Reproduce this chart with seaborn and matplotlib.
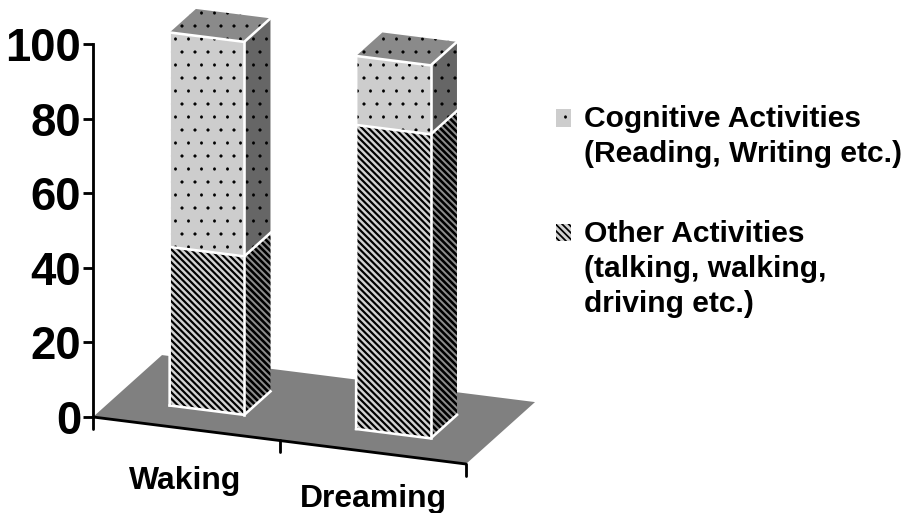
import matplotlib
matplotlib.use("Agg")
import matplotlib.pyplot as plt
from matplotlib.legend_handler import HandlerPatch
from matplotlib.patches import Patch, Polygon, Rectangle
from matplotlib.transforms import Affine2D
import numpy as np
import pandas as pd
import seaborn as sns

# Share of dream/waking reports by activity type (percent)
conditions = ["Waking", "Dreaming"]
other_activities = [42.5, 81.5]
cognitive_activities = [57.5, 18.5]
value_ticks = [0, 20, 40, 60, 80, 100]
cognitive_label = "Cognitive Activities\n(Reading, Writing etc.)"
other_label = "Other Activities\n(talking, walking,\ndriving etc.)"

# Oblique projection: drop of the baseline per category, floor depth vector
SHEAR = 6.3
DEPTH_X = 0.37
DEPTH_Y = 16.6
Z_FRONT, Z_BACK = 0.30, 0.68
BAR_WIDTH = 0.40

DPI = 78
sns.set_style("ticks")
plt.rcParams["font.family"] = ["Liberation Sans", "DejaVu Sans"]
plt.rcParams["font.weight"] = "bold"
plt.rcParams["text.color"] = "black"
plt.rcParams["ytick.color"] = "black"
plt.rcParams["axes.edgecolor"] = "black"
plt.rcParams["hatch.linewidth"] = 0.3


def plane(z):
    """Affine map from (category, value) at floor depth z to data space."""
    return Affine2D.from_values(1, -SHEAR, 0, 1, z * DEPTH_X, -SHEAR * 0.5 + z * DEPTH_Y)


def project(x, v, z):
    return tuple(plane(z).transform((x, v)))


def with_hatch_width(artist, width):
    """Render an artist with its own hatch stroke width."""
    base_draw = artist.draw

    def draw(renderer):
        with plt.rc_context({"hatch.linewidth": width}):
            base_draw(renderer)

    artist.draw = draw
    if hasattr(artist, "set_hatch_linewidth"):
        artist.set_hatch_linewidth(width)
    elif hasattr(artist, "_hatch_linewidth"):
        artist._hatch_linewidth = width
    return artist


def swatch_on_first_line(legend, orig_handle, xdescent, ydescent, width, height, fontsize):
    """Legend swatch raised level with the first line of a multi-line label."""
    shift = LINE_PITCH * (orig_handle.line_count - 1) / 2 + 0.5
    return Rectangle((-xdescent, -ydescent + shift), width, height)


STRIPE_W = 2.0
DOT_W = 0.4
STRIPES = "\\\\\\\\"
DOTS = "."
LINE_PITCH = 34.0

fig = plt.figure(figsize=(902 / DPI, 513 / DPI), dpi=DPI)
ax = fig.add_axes([93 / 902, 1 - 417 / 513, (466 - 93) / 902, (417 - 44) / 513])
ax.patch.set_visible(False)

other = np.array(other_activities)
totals = other + np.array(cognitive_activities)
frame = pd.DataFrame({"condition": conditions, "other": other, "total": totals})

# Floor
floor = Polygon(
    [project(-0.5, 0, 0), project(1.5, 0, 0), project(1.5, 0, 1), project(-0.5, 0, 1)],
    closed=True, facecolor="#808080", edgecolor="none", clip_on=False, zorder=0.2,
)
ax.add_patch(floor)

# Front faces: full-height dotted bars with the striped part over them
before = len(ax.patches)
sns.barplot(frame, x="condition", y="total", width=BAR_WIDTH, color="#cdcdcd", saturation=1,
            edgecolor="black", linewidth=0, hatch=DOTS, ax=ax, zorder=3)
dotted = ax.patches[before:]
before = len(ax.patches)
sns.barplot(frame, x="condition", y="other", width=BAR_WIDTH, color="#d2d2d2", saturation=1,
            edgecolor="black", linewidth=0, hatch=STRIPES, ax=ax, zorder=3.1)
striped = ax.patches[before:]
for patch in dotted:
    with_hatch_width(patch, DOT_W)
for patch in striped:
    with_hatch_width(patch, STRIPE_W)
for patch in list(dotted) + list(striped):
    patch.set_transform(plane(Z_FRONT) + ax.transData)
    patch.set_clip_on(False)

# Side and top faces, then the white outlines
for i in range(len(conditions)):
    x0, x1 = i - BAR_WIDTH / 2, i + BAR_WIDTH / 2
    lower, upper = other[i], totals[i]
    side_low = [project(x1, 0, Z_FRONT), project(x1, lower, Z_FRONT),
                project(x1, lower, Z_BACK), project(x1, 0, Z_BACK)]
    side_up = [project(x1, lower, Z_FRONT), project(x1, upper, Z_FRONT),
               project(x1, upper, Z_BACK), project(x1, lower, Z_BACK)]
    top = [project(x0, upper, Z_FRONT), project(x1, upper, Z_FRONT),
           project(x1, upper, Z_BACK), project(x0, upper, Z_BACK)]
    styles = [(side_low, "#8c8c8c", STRIPES, 2.4),
              (side_up, "#666666", DOTS, DOT_W),
              (top, "#8a8a8a", DOTS, DOT_W)]
    for points, face, hatch, width in styles:
        poly = Polygon(points, closed=True, facecolor=face, edgecolor="black", linewidth=0,
                       hatch=hatch, clip_on=False, zorder=3)
        ax.add_patch(with_hatch_width(poly, width))

    outlines = [
        [project(x0, 0, Z_FRONT), project(x1, 0, Z_FRONT), project(x1, 0, Z_BACK)],
        [project(x0, 0, Z_FRONT), project(x0, upper, Z_FRONT), project(x1, upper, Z_FRONT),
         project(x1, upper, Z_BACK)],
        [project(x1, 0, Z_FRONT), project(x1, upper, Z_FRONT)],
        [project(x0, lower, Z_FRONT), project(x1, lower, Z_FRONT), project(x1, lower, Z_BACK)],
    ]
    for line in outlines:
        xs, ys = zip(*line)
        ax.plot(xs, ys, color="white", lw=2.4, clip_on=False, zorder=4,
                solid_joinstyle="miter", solid_capstyle="projecting")

# Value axis
ax.set_xlim(-0.5, 1.5)
ax.set_ylim(0, 100)
ax.set_yticks(value_ticks)
ax.set_xticks([])
ax.set_xlabel("")
ax.set_ylabel("")
ax.tick_params(axis="y", length=9, width=2.6, pad=2, labelsize=42, colors="black")
sns.despine(ax=ax, bottom=True)
ax.spines["left"].set_linewidth(2.6)

# Category axis along the sheared baseline
baseline = plane(0) + ax.transData
ax.plot([-0.5, 1.5], [0, 0], color="black", lw=2.6, transform=baseline, clip_on=False, zorder=2.5)
for edge in (-0.5, 0.5, 1.5):
    ax.plot([edge, edge], [0, -3.2], color="black", lw=2.6, transform=baseline, clip_on=False, zorder=2.5)

label_offsets = [(-1, -52), (1, -47)]
for i, name in enumerate(conditions):
    ax.annotate(name, xy=(i, 0), xycoords=baseline, xytext=label_offsets[i], textcoords="offset pixels",
                ha="center", va="center", fontsize=29.4, fontweight="bold", annotation_clip=False)

# Legend
cognitive_handle = Patch(facecolor="#cdcdcd", edgecolor="black", linewidth=0, hatch=DOTS)
other_handle = Patch(facecolor="#d2d2d2", edgecolor="black", linewidth=0, hatch=STRIPES)
cognitive_handle.line_count = cognitive_label.count("\n") + 1
other_handle.line_count = other_label.count("\n") + 1
legend = ax.legend([cognitive_handle, other_handle], [cognitive_label, other_label], loc="upper left",
                   bbox_to_anchor=(556 / 902, 1 - 105 / 513), bbox_transform=fig.transFigure,
                   frameon=False, borderpad=0, borderaxespad=0, prop={"size": 27.7, "weight": "bold"},
                   handlelength=0.5, handleheight=0.5, handletextpad=0.42, labelspacing=1.72,
                   handler_map={Patch: HandlerPatch(patch_func=swatch_on_first_line)})
for text in legend.get_texts():
    text.set_linespacing(1.33)
with_hatch_width(legend.get_patches()[0], DOT_W)
with_hatch_width(legend.get_patches()[1], 1.6)

fig.savefig("out.png", dpi=DPI, facecolor="white")
